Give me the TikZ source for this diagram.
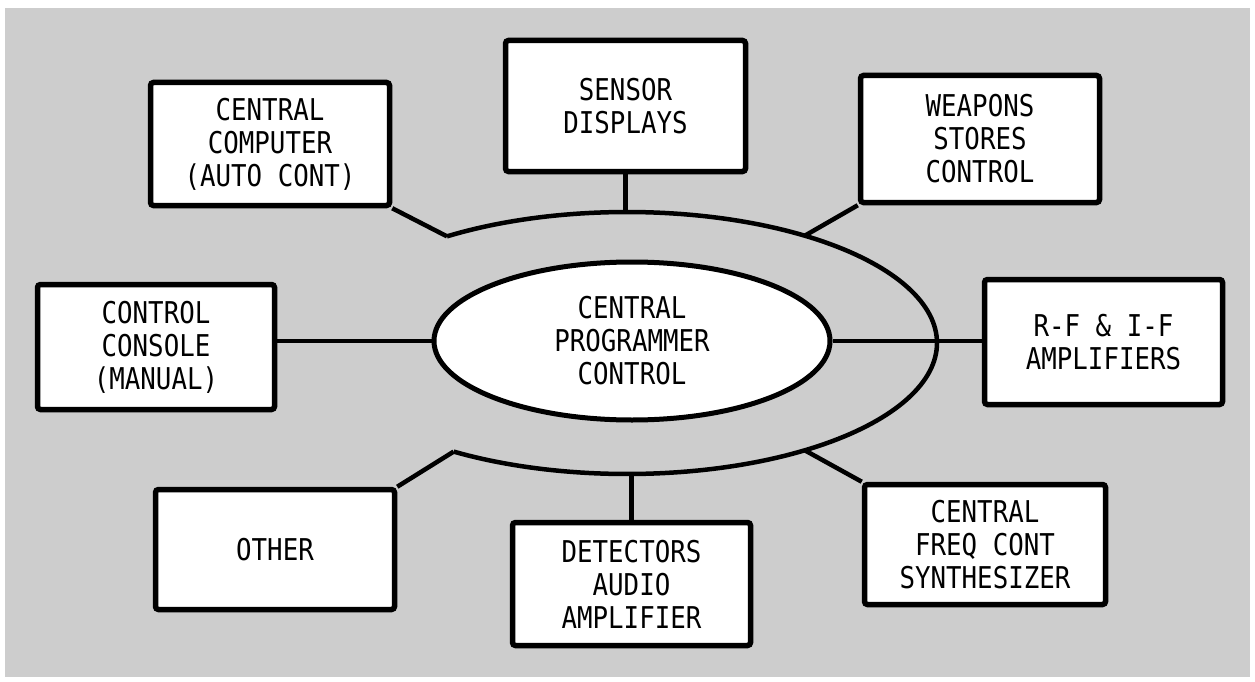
\documentclass[tikz,border=0pt]{standalone}
\usepackage{fontspec}
\newfontfamily\lettering[FakeStretch=0.86]{DejaVu Sans Mono}
\usetikzlibrary{shapes.geometric}
\definecolor{screen}{RGB}{205,205,205}
\begin{document}
\begin{tikzpicture}[x=1pt,y=-1pt,
  lbl/.style={font=\lettering\fontsize{30}{33}\selectfont, align=center, text=black},
  box/.style={lbl, draw, fill=white, line width=5.5pt, rounded corners=3pt, inner sep=0pt},
  hub/.style={lbl, ellipse, draw, fill=white, line width=5pt, inner sep=0pt,
              minimum width=396pt, minimum height=158pt},
  link/.style={line width=4.5pt}]
\useasboundingbox (0,0) rectangle (1255,682);
\fill[white] (0,0) rectangle (1255,682);
\fill[screen] (5,8) rectangle (1250,677);

% outer ring (open on the left)
\draw[link] plot[domain=-125.5:124, samples=160] ({627+310*cos(\x)},{343+131*sin(\x)});
\coordinate (rTL) at ({627+310*cos(-125.5)},{343+131*sin(-125.5)});
\coordinate (rT)  at ({627+310*cos(-90)},{343+131*sin(-90)});
\coordinate (rTR) at ({627+310*cos(-55)},{343+131*sin(-55)});
\coordinate (rBR) at ({627+310*cos(55)},{343+131*sin(55)});
\coordinate (rB)  at ({627+310*cos(90)},{343+131*sin(90)});
\coordinate (rBL) at ({627+310*cos(124)},{343+131*sin(124)});

% central hub
\node[hub] (prog) at (632,341) {CENTRAL\\PROGRAMMER\\CONTROL};

% surrounding boxes
\node[box, minimum width=239pt, minimum height=123pt] (comp) at (270,144) {CENTRAL\\COMPUTER\\(AUTO CONT)};
\node[box, minimum width=240pt, minimum height=131pt] (sensor) at (625.5,106) {SENSOR\\DISPLAYS};
\node[box, minimum width=239pt, minimum height=127pt] (weap) at (980,139) {WEAPONS\\STORES\\CONTROL};
\node[box, minimum width=237pt, minimum height=125pt] (console) at (156,347) {CONTROL\\CONSOLE\\(MANUAL)};
\node[box, minimum width=238pt, minimum height=125pt] (rf) at (1103.5,342) {R-F \& I-F\\AMPLIFIERS};
\node[box, minimum width=239pt, minimum height=120pt] (other) at (275,549.5) {OTHER};
\node[box, minimum width=238pt, minimum height=123pt] (det) at (631.5,584) {DETECTORS\\AUDIO\\AMPLIFIER};
\node[box, minimum width=241pt, minimum height=120pt] (freq) at (985,544.5) {CENTRAL\\FREQ CONT\\SYNTHESIZER};

% connectors
\draw[link] (comp.south east) -- (rTL);
\draw[link] (sensor.south) -- (sensor.south |- rT);
\draw[link] (weap.south west) -- (rTR);
\draw[link] (prog.west) -- (prog.west -| console.east);
\draw[link] (prog.east) -- (prog.east -| rf.west);
\draw[link] (other.north east) -- (rBL);
\draw[link] (det.north) -- (det.north |- rB);
\draw[link] (freq.north west) -- (rBR);
\end{tikzpicture}
\end{document}
